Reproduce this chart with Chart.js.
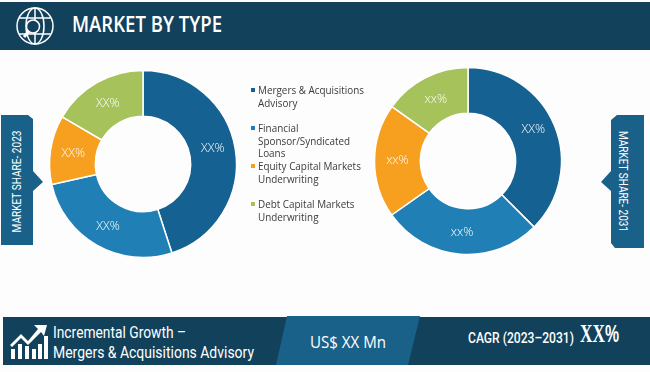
<!DOCTYPE html>
<html><head><meta charset="utf-8">
<style>
html,body{margin:0;padding:0;background:#fdfdfd;width:650px;height:372px;overflow:hidden;font-family:"Liberation Sans",sans-serif}
.abs{position:absolute;white-space:nowrap;transform-origin:left top;color:#fff}
canvas{position:absolute}
.legend{position:absolute;left:258px;color:#3a3a3a;font:10.2px/12.6px "Open Sans",sans-serif;white-space:nowrap;transform-origin:left top}
.sw{position:absolute;left:251px;width:4px;height:4px}
.vert{position:absolute;color:#fff;font:12.5px "Roboto",sans-serif;white-space:nowrap}
</style></head><body>
<svg class="abs" style="left:0;top:0" width="650" height="372">
<rect x="0" y="2" width="650" height="48" fill="#12415c"/>
<g fill="none" stroke="#fff" stroke-width="1.5">
<circle cx="35" cy="26" r="18"/>
<ellipse cx="35" cy="26" rx="9" ry="18"/>
<path d="M19 18H51M19 34H51M35 8V44"/>
<circle cx="33" cy="26.5" r="6.5" fill="#12415c"/>
</g>
<path d="M29 31L24 37" stroke="#fff" stroke-width="3"/>
<path d="M1 115H28L33 119V171L43 182L33 191V243V245H1Z" fill="#1a6189"/>
<path d="M644 115H617L611 120V171L601 182L611 191V243L615 248H644Z" fill="#1a6189"/>
<rect x="3" y="317" width="647" height="48" fill="#12415c"/>
<path d="M287 316H420L408 365H276Z" fill="#1a6189"/>
<g fill="#fff">
<rect x="11" y="349" width="4" height="10"/><rect x="18" y="344" width="4" height="15"/>
<rect x="25" y="346" width="4" height="13"/><rect x="32" y="349" width="4" height="10"/>
<rect x="38" y="344" width="4" height="15"/><rect x="44" y="336" width="4" height="23"/>
<path d="M47 325L34 325L38 329L28 341L21 334L10 345L12 347L21 338L28 345L41 332L44 336Z"/>
</g>
</svg>
<div class="abs" data-w="150" style="left:72px;top:8px;font:600 22px 'Open Sans',sans-serif">MARKET BY TYPE</div>
<div class="abs" data-w="133" style="left:53px;top:323px;font:16px 'Roboto',sans-serif">Incremental Growth –</div>
<div class="abs" data-w="201" style="left:53px;top:343px;font:16px 'Roboto',sans-serif">Mergers &amp; Acquisitions Advisory</div>
<div class="abs" data-w="76" style="left:310px;top:331px;font:16px 'Open Sans',sans-serif">US$ XX Mn</div>
<div class="abs" data-w="106" style="left:468px;top:330px;font:500 14px 'Roboto',sans-serif">CAGR (2023–2031)</div>
<div class="abs" data-w="39" style="left:580px;top:320px;font:bold 25px 'Liberation Serif',serif">XX<span style="font:bold 23px 'Liberation Sans',sans-serif">%</span></div>
<div class="vert" id="v1" data-cx="16" data-cy="181" data-rot="-90" data-w="102">MARKET SHARE- 2023</div>
<div class="vert" id="v2" data-cx="623" data-cy="181" data-rot="90" data-w="101">MARKET SHARE- 2031</div>
<canvas id="c1" width="210" height="210" style="left:38px;top:59px"></canvas>
<canvas id="c2" width="210" height="210" style="left:363px;top:56px"></canvas>
<div id="lg"></div>
<script src="https://cdn.jsdelivr.net/npm/chart.js@4/dist/chart.umd.min.js"></script>
<script>
const categories=["Mergers & Acquisitions Advisory","Financial Sponsor/Syndicated Loans","Equity Capital Markets Underwriting","Debt Capital Markets Underwriting"];
const legendLines=[["Mergers & Acquisitions","Advisory"],["Financial","Sponsor/Syndicated","Loans"],["Equity Capital Markets","Underwriting"],["Debt Capital Markets","Underwriting"]];
const legendTops=[84,122,160,198];
const share2023=[45,26.5,11.9,16.6];
const share2031=[37.5,27.7,19.7,15.1];
const labels2023=["XX%","XX%","XX%","XX%"];
const labels2031=["XX%","xx%","xx%","xx%"];
const labelLift=[5,-1,0,-1];
const colors=["#156192","#2080b5","#f79f1f","#a5c25b"];
const lg=document.getElementById('lg');
legendLines.forEach((l,i)=>{
  lg.insertAdjacentHTML('beforeend',`<div class="sw" style="top:${legendTops[i]+4}px;background:${colors[i]}"></div><div class="legend" style="top:${legendTops[i]}px;transform:scaleX(0.97)">${l.join('<br>').replace(/&/g,'&amp;')}</div>`);
});
document.querySelectorAll('.abs[data-w]').forEach(e=>{
  e.style.transform=`scaleX(${e.dataset.w/e.getBoundingClientRect().width})`;
});
document.querySelectorAll('.vert').forEach(e=>{
  const r=e.getBoundingClientRect();
  e.style.left=(e.dataset.cx-r.width/2)+'px';
  e.style.top=(e.dataset.cy-r.height/2)+'px';
  e.style.transform=`rotate(${e.dataset.rot}deg) scaleX(${e.dataset.w/r.width})`;
});
const valuePlugin={id:'vals',afterDatasetsDraw(ch,a,o){
  const c=ch.ctx,m=ch.getDatasetMeta(0);
  c.save();c.fillStyle='#fff';c.font='300 12.5px "Open Sans",sans-serif';c.textAlign='center';c.textBaseline='middle';
  m.data.forEach((el,i)=>{const p=el.tooltipPosition();c.fillText(o.text[i],p.x,p.y-labelLift[i]);});
  c.restore();
}};
function donut(id,data,text){
  new Chart(document.getElementById(id),{type:'doughnut',
    data:{labels:categories,datasets:[{data,backgroundColor:colors,borderColor:'#fff',borderWidth:1.5}]},
    options:{responsive:false,animation:false,cutout:'51%',radius:93.5,layout:{padding:0},
      plugins:{legend:{display:false},tooltip:{enabled:false},vals:{text}}},
    plugins:[valuePlugin]});
}
donut('c1',share2023,labels2023);
donut('c2',share2031,labels2031);
</script>
</body></html>
